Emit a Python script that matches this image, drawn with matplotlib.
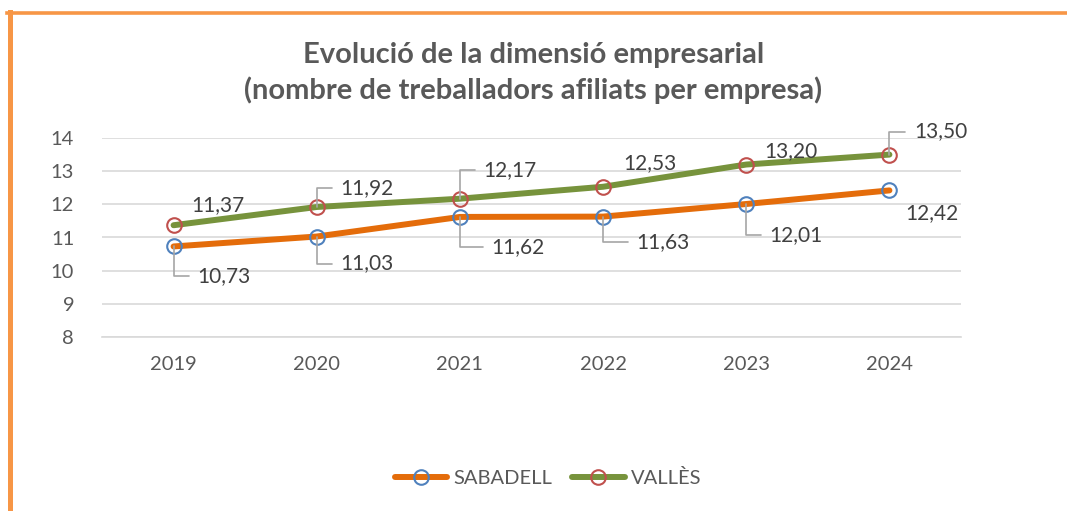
import matplotlib.pyplot as plt
from matplotlib.lines import Line2D

plt.rcParams['font.family'] = ['Lato', 'DejaVu Sans']

years = ['2019', '2020', '2021', '2022', '2023', '2024']
sabadell = [10.73, 11.03, 11.62, 11.63, 12.01, 12.42]
valles = [11.37, 11.92, 12.17, 12.53, 13.20, 13.50]

# label offsets in pixels (dx, dy with y downwards) and whether a leader line is drawn
valles_offsets = [(44, -20, False), (50, -19, True), (50, -29, True),
                  (47, -24, False), (45, -13, False), (51, -23, True)]
sabadell_offsets = [(50, 30, True), (50, 27, True), (58, 30, True),
                    (60, 25, True), (50, 31, True), (42, 23, False)]

text_col = '#595959'
grid_col = '#D9D9D9'

fig = plt.figure(figsize=(10.67, 5.11), dpi=100)
ax = fig.add_axes([102 / 1067, 1 - 337 / 511, 859 / 1067, 199 / 511])

x = range(len(years))
ax.plot(x, sabadell, color='#E46C0A', lw=4.3, marker='o', ms=10.5,
        mfc='none', mec='#4F81BD', mew=1.5, solid_capstyle='round', label='SABADELL', zorder=3)
ax.plot(x, valles, color='#77933C', lw=4.3, marker='o', ms=10.5,
        mfc='none', mec='#C0504D', mew=1.5, solid_capstyle='round', label='VALLÈS', zorder=3)

px = 0.72  # pixel -> points


def label(xi, yi, dx, dy, leader):
    txt = f'{yi:.2f}'.replace('.', ',')
    arrow = None
    if leader:
        arrow = dict(arrowstyle='-', color='#A6A6A6', lw=1.2, relpos=(0, 0.5),
                     connectionstyle='angle,angleA=0,angleB=90,rad=0',
                     shrinkA=4, shrinkB=0)
    ax.annotate(txt, (xi, yi), xytext=(dx * px, -dy * px), textcoords='offset points',
                ha='center', va='center', fontsize=15, color='#404040',
                arrowprops=arrow, zorder=4)


for i, v in enumerate(valles):
    dx, dy, ld = valles_offsets[i]
    label(i, v, dx, dy, ld)
for i, v in enumerate(sabadell):
    dx, dy, ld = sabadell_offsets[i]
    label(i, v, dx, dy, ld)

ax.set_xlim(-0.5, len(years) - 0.5)
ax.set_ylim(8, 14)
ax.set_yticks(range(8, 15))
ax.set_xticks(list(x))
ax.set_xticklabels(years)
ax.tick_params(length=0, labelsize=14.5, colors=text_col)
ax.tick_params(axis='x', pad=14)
ax.tick_params(axis='y', pad=20)
ax.grid(axis='y', color=grid_col, lw=1.2)
ax.set_axisbelow(True)
for s in ['top', 'right', 'left']:
    ax.spines[s].set_visible(False)
ax.spines['bottom'].set_color(grid_col)
ax.spines['bottom'].set_linewidth(1.2)

fig.text(0.5, 1 - 73 / 511, 'Evolució de la dimensió empresarial\n(nombre de treballadors afiliats per empresa)',
         ha='center', va='center', fontsize=21, fontweight='bold', color=text_col, linespacing=1.38)

fig.legend(loc='center', bbox_to_anchor=(548 / 1067, 1 - 478 / 511), ncol=2, frameon=False,
           fontsize=14.5, handlelength=2.6, columnspacing=1.0, handletextpad=0.3,
           labelcolor=text_col)

# orange border (left and top visible)
fig.add_artist(Line2D([9.5 / 1067, 9.5 / 1067], [0, 1 - 12 / 511], color='#F79646', lw=3.6,
                      transform=fig.transFigure))
fig.add_artist(Line2D([7 / 1067, 1], [1 - 13.5 / 511, 1 - 13.5 / 511], color='#F79646', lw=2.6,
                      transform=fig.transFigure))

fig.savefig('out.png', dpi=100)
